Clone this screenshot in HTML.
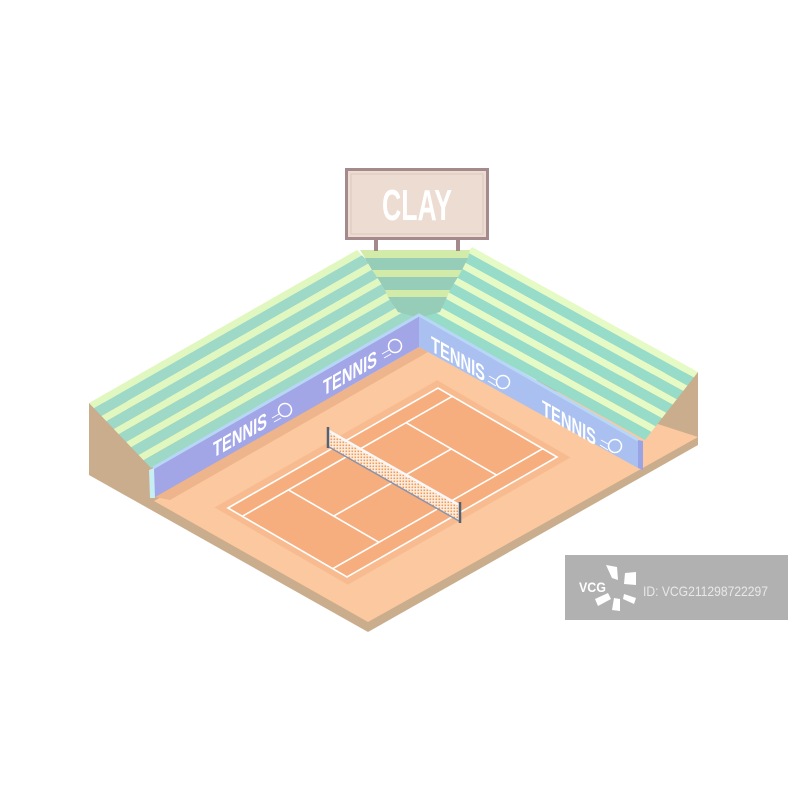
<!DOCTYPE html>
<html><head><meta charset="utf-8"><style>html,body{margin:0;padding:0;background:#fff}svg{display:block}</style></head><body>
<svg width="788" height="800" viewBox="0 0 788 800" xmlns="http://www.w3.org/2000/svg">
<defs>
<pattern id="mesh" width="3" height="3" patternUnits="userSpaceOnUse">
<rect width="3" height="3" fill="#fbeee2"/><rect x="0.5" y="0.5" width="1.6" height="1.6" fill="#f59a55"/>
</pattern>
</defs>
<rect width="788" height="800" fill="#fff"/>
<!-- base -->
<polygon points="89,403 89,475 368,632 698,445 698,372" fill="#c9ad8c"/>
<polygon points="154,501 419,347 698,437 368,622" fill="#fbc8a0"/>
<polygon points="155,497 419,347 428,352 170,500" fill="#eeb48b"/>
<!-- court -->
<g transform="matrix(210,-120,119,69,228,508)">
<polygon points="-0.03,-0.06 1.03,-0.06 1.03,1.06 -0.03,1.06" fill="#f8bb90"/>
<polygon points="0,0 1,0 1,1 0,1" fill="#f7ae7e"/>
<g stroke="#fff" stroke-width="1.6" fill="none">
<polygon points="0,0 1,0 1,1 0,1" vector-effect="non-scaling-stroke"/>
<line x1="0" y1="0.12" x2="1" y2="0.12" vector-effect="non-scaling-stroke"/>
<line x1="0" y1="0.88" x2="1" y2="0.88" vector-effect="non-scaling-stroke"/>
<line x1="0.22" y1="0.12" x2="0.22" y2="0.88" vector-effect="non-scaling-stroke"/>
<line x1="0.78" y1="0.12" x2="0.78" y2="0.88" vector-effect="non-scaling-stroke"/>
<line x1="0.22" y1="0.5" x2="0.78" y2="0.5" vector-effect="non-scaling-stroke"/>
</g></g>
<!-- left stands -->
<g>
<polygon points="89,403 357,250 361.96,255.2 93.96,408.2" fill="#e1f7c0"/>
<polygon points="93.96,408.2 361.96,255.2 369.4,263 101.4,416" fill="#9ed8c6"/>
<polygon points="101.4,416 369.4,263 374.36,268.2 106.36,421.2" fill="#e1f7c0"/>
<polygon points="106.36,421.2 374.36,268.2 381.8,276 113.8,429" fill="#9ed8c6"/>
<polygon points="113.8,429 381.8,276 386.76,281.2 118.76,434.2" fill="#e1f7c0"/>
<polygon points="118.76,434.2 386.76,281.2 394.2,289 126.2,442" fill="#9ed8c6"/>
<polygon points="126.2,442 394.2,289 399.16,294.2 131.16,447.2" fill="#e1f7c0"/>
<polygon points="131.16,447.2 399.16,294.2 406.6,302 138.6,455" fill="#9ed8c6"/>
<polygon points="138.6,455 406.6,302 411.56,307.2 143.56,460.2" fill="#e1f7c0"/>
<polygon points="143.56,460.2 411.56,307.2 419,315 151,468" fill="#9ed8c6"/>
</g>
<!-- right stands -->
<g>
<polygon points="472,247 698,372 693.76,377.44 467.76,252.44" fill="#e6fac6"/>
<polygon points="467.76,252.44 693.76,377.44 687.4,385.6 461.4,260.6" fill="#96dcc8"/>
<polygon points="461.4,260.6 687.4,385.6 683.16,391.04 457.16,266.04" fill="#e6fac6"/>
<polygon points="457.16,266.04 683.16,391.04 676.8,399.2 450.8,274.2" fill="#96dcc8"/>
<polygon points="450.8,274.2 676.8,399.2 672.56,404.64 446.56,279.64" fill="#e6fac6"/>
<polygon points="446.56,279.64 672.56,404.64 666.2,412.8 440.2,287.8" fill="#96dcc8"/>
<polygon points="440.2,287.8 666.2,412.8 661.96,418.24 435.96,293.24" fill="#e6fac6"/>
<polygon points="435.96,293.24 661.96,418.24 655.6,426.4 429.6,301.4" fill="#96dcc8"/>
<polygon points="429.6,301.4 655.6,426.4 651.36,431.84 425.36,306.84" fill="#e6fac6"/>
<polygon points="425.36,306.84 651.36,431.84 645,440 419,315" fill="#96dcc8"/>
</g>
<!-- center stairs -->
<polygon points="360,250 470,250 468,258 365,258" fill="#d3eba8"/>
<polygon points="365,258 468,258 462,270 372,270" fill="#96cdb8"/>
<polygon points="372,270 462,270 458,277 377,277" fill="#d3eba8"/>
<polygon points="377,277 458,277 450,290 385,290" fill="#96cdb8"/>
<polygon points="385,290 450,290 447,297 388,297" fill="#d3eba8"/>
<polygon points="388,297 447,297 440,312 398,312" fill="#96cdb8"/>
<polygon points="398,312 440,312 419,318" fill="#96cdb8"/>
<!-- walls -->
<polygon points="153,468 419,315 419,347 155,497" fill="#a2a6e6"/>
<polygon points="419,315 638,440 638,468 419,347" fill="#a9c0f0"/>
<polyline points="153,468 419,315 638,440" fill="none" stroke="#b8d6f6" stroke-width="3"/>
<polygon points="149,470 154,468 155,498 150,498" fill="#c6eef3"/>
<polygon points="638,440 643,441 643,470 638,468" fill="#9aa3e6"/>
<!-- wall texts -->
<g font-family="'Liberation Sans Narrow','Liberation Sans',sans-serif" font-weight="bold" font-size="22" fill="#fff">
<text transform="matrix(1,-0.571,0,1,213,458)" textLength="54" lengthAdjust="spacingAndGlyphs">TENNIS</text>
<text transform="matrix(1,-0.571,0,1,323,396)" textLength="54" lengthAdjust="spacingAndGlyphs">TENNIS</text>
<text transform="matrix(1,0.571,0,1,431,351)" textLength="54" lengthAdjust="spacingAndGlyphs">TENNIS</text>
<text transform="matrix(1,0.571,0,1,542,415)" textLength="54" lengthAdjust="spacingAndGlyphs">TENNIS</text>
</g>
<g fill="#a2a6e6" stroke="#fff" stroke-width="1.5">
<circle cx="285" cy="410" r="6.5"/><circle cx="395" cy="346" r="6.5"/>
<circle cx="503" cy="382" r="6.5" fill="#a9c0f0"/><circle cx="615" cy="446" r="6.5" fill="#a9c0f0"/>
</g>
<g stroke="#fff" stroke-width="1">
<line x1="272" y1="418" x2="279" y2="414"/><line x1="274" y1="422" x2="281" y2="418"/>
<line x1="382" y1="354" x2="389" y2="350"/><line x1="384" y1="358" x2="391" y2="354"/>
<line x1="489" y1="376" x2="496" y2="380"/><line x1="488" y1="381" x2="496" y2="386"/>
<line x1="601" y1="440" x2="608" y2="444"/><line x1="600" y1="445" x2="608" y2="450"/>
</g>
<!-- net -->
<polygon points="329,432 459,506 459,521 329,447" fill="url(#mesh)"/>
<line x1="329" y1="431" x2="459" y2="505" stroke="#f8f8f8" stroke-width="2.5"/>
<line x1="329" y1="447" x2="459" y2="521" stroke="#8a93a8" stroke-width="1.5"/>
<line x1="328" y1="427" x2="328" y2="448" stroke="#56606e" stroke-width="2.5"/>
<line x1="460" y1="502" x2="460" y2="523" stroke="#56606e" stroke-width="2.5"/>
<!-- sign -->
<rect x="374" y="238" width="4" height="13" fill="#a58a8c"/>
<rect x="456" y="238" width="4" height="13" fill="#a58a8c"/>
<rect x="346.5" y="169.5" width="141" height="69" fill="#eddcd1" stroke="#a58a8c" stroke-width="3"/>
<rect x="351" y="174" width="132" height="60" fill="none" stroke="#dcc9be" stroke-width="1"/>
<text x="417" y="220" text-anchor="middle" font-family="'Liberation Sans Narrow','Liberation Sans',sans-serif" font-weight="bold" font-size="44" fill="#fff" textLength="70" lengthAdjust="spacingAndGlyphs">CLAY</text>
<!-- watermark -->
<rect x="565" y="555" width="223" height="65" fill="#b1b1b1"/>
<text x="579" y="592" font-family="'Liberation Sans',sans-serif" font-weight="bold" font-size="14" fill="#fff" textLength="27" lengthAdjust="spacingAndGlyphs">VCG</text>
<g fill="#fff">
<polygon points="606,565 617,567 618,580 612,578"/>
<polygon points="625,573 636,572 636,585 624,584"/>
<polygon points="595,599 608,593 611,599 598,606"/>
<polygon points="614,598 620,599 620,611 612,610"/>
<polygon points="624,594 636,598 634,604 623,599"/>
</g>
<text x="643" y="596" font-family="'Liberation Sans Narrow','Liberation Sans',sans-serif" font-size="14" fill="#e8e8e8" textLength="125" lengthAdjust="spacingAndGlyphs">ID: VCG211298722297</text>
</svg>
</body></html>
